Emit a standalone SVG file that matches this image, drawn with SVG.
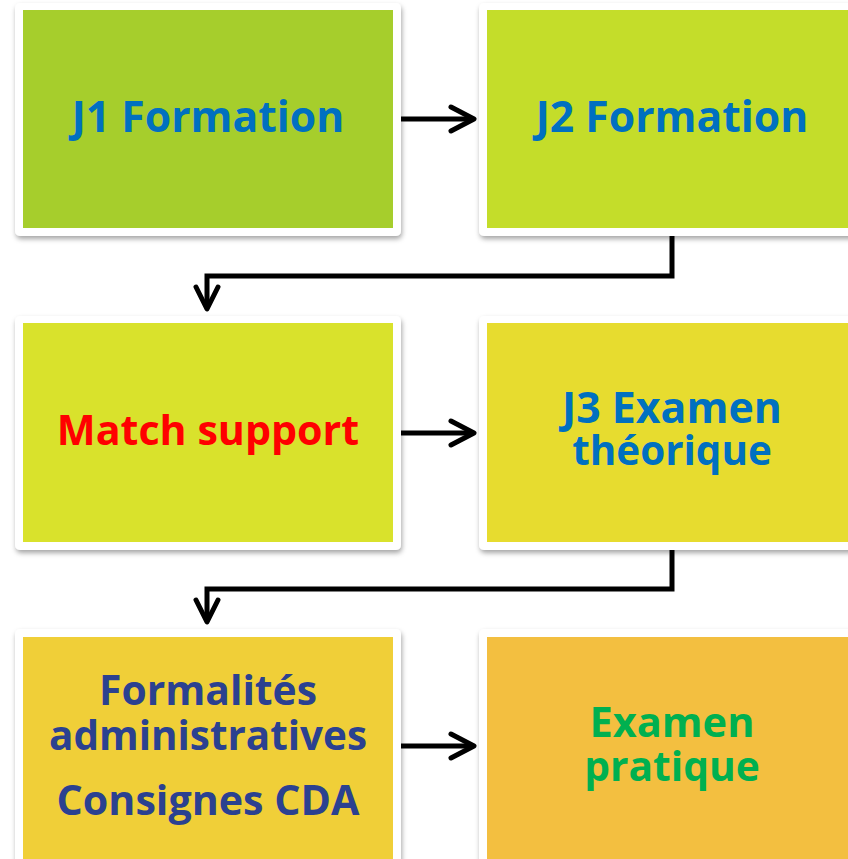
<svg xmlns="http://www.w3.org/2000/svg" width="848" height="859" viewBox="0 0 848 859">
<defs>
<filter id="sh" x="-10%" y="-10%" width="120%" height="120%">
<feDropShadow dx="1" dy="3" stdDeviation="2.5" flood-color="#000" flood-opacity="0.35"/>
</filter>
</defs>
<style>
.frame{fill:#fff;filter:url(#sh)}
.t{font-family:"Open Sans","Noto Sans",sans-serif;font-weight:bold;font-size:41px;text-anchor:middle}
.blue{fill:#0070C0}
.red{fill:#FF0000}
.navy{fill:#2B4190}
.green{fill:#00B050}
.ln{fill:none;stroke:#000;stroke-width:5;stroke-linejoin:miter}
.hd{fill:none;stroke:#000;stroke-width:5;stroke-linecap:round;stroke-linejoin:round}
</style>
<rect width="848" height="859" fill="#fff"/>
<g id="n1">
<rect class="frame" x="15" y="3" width="386" height="233" rx="5"/>
<rect x="23" y="10" width="370" height="218" fill="#A6CE2C"/>
<text class="t blue" x="208" y="132" style="font-size:42.7px">J1 Formation</text>
</g>
<g id="n2">
<rect class="frame" x="479" y="3" width="386" height="233" rx="5"/>
<rect x="487" y="10" width="370" height="218" fill="#C4DD2A"/>
<text class="t blue" x="672" y="132" style="font-size:42.7px">J2 Formation</text>
</g>
<g id="n3">
<rect class="frame" x="15" y="316" width="386" height="234" rx="5"/>
<rect x="23" y="323" width="370" height="219" fill="#D9E22C"/>
<text class="t red" x="208" y="445" style="font-size:41.2px">Match support</text>
</g>
<g id="n4">
<rect class="frame" x="479" y="316" width="386" height="234" rx="5"/>
<rect x="487" y="323" width="370" height="219" fill="#E7DC2F"/>
<text class="t blue" x="672" y="423" style="font-size:42.8px">J3 Examen</text>
<text class="t blue" x="672" y="465" style="font-size:40.4px">théorique</text>
</g>
<g id="n5">
<rect class="frame" x="15" y="629" width="386" height="240" rx="5"/>
<rect x="23" y="637" width="370" height="222" fill="#F0CF38"/>
<text class="t navy" x="208" y="705" style="font-size:40.8px">Formalités</text>
<text class="t navy" x="208" y="750" style="font-size:40.4px">administratives</text>
<text class="t navy" x="208" y="815" style="font-size:41.2px">Consignes CDA</text>
</g>
<g id="n6">
<rect class="frame" x="479" y="629" width="386" height="240" rx="5"/>
<rect x="487" y="637" width="370" height="222" fill="#F3BF40"/>
<text class="t green" x="672" y="737" style="font-size:41.5px">Examen</text>
<text class="t green" x="672" y="781" style="font-size:40.7px">pratique</text>
</g>
<g id="connectors">
<path class="ln" d="M401 119 H473"/>
<path class="hd" d="M451 107 L474 119 L451 131"/>
<path class="ln" d="M401 433 H473"/>
<path class="hd" d="M451 421 L474 433 L451 445"/>
<path class="ln" d="M401 746 H473"/>
<path class="hd" d="M451 734 L474 746 L451 758"/>
<path class="ln" d="M672 236 V276 H207 V307"/>
<path class="hd" d="M196 287 L207 309 L218 287"/>
<path class="ln" d="M672 550 V589 H207 V620"/>
<path class="hd" d="M196 600 L207 622 L218 600"/>
</g>
</svg>
